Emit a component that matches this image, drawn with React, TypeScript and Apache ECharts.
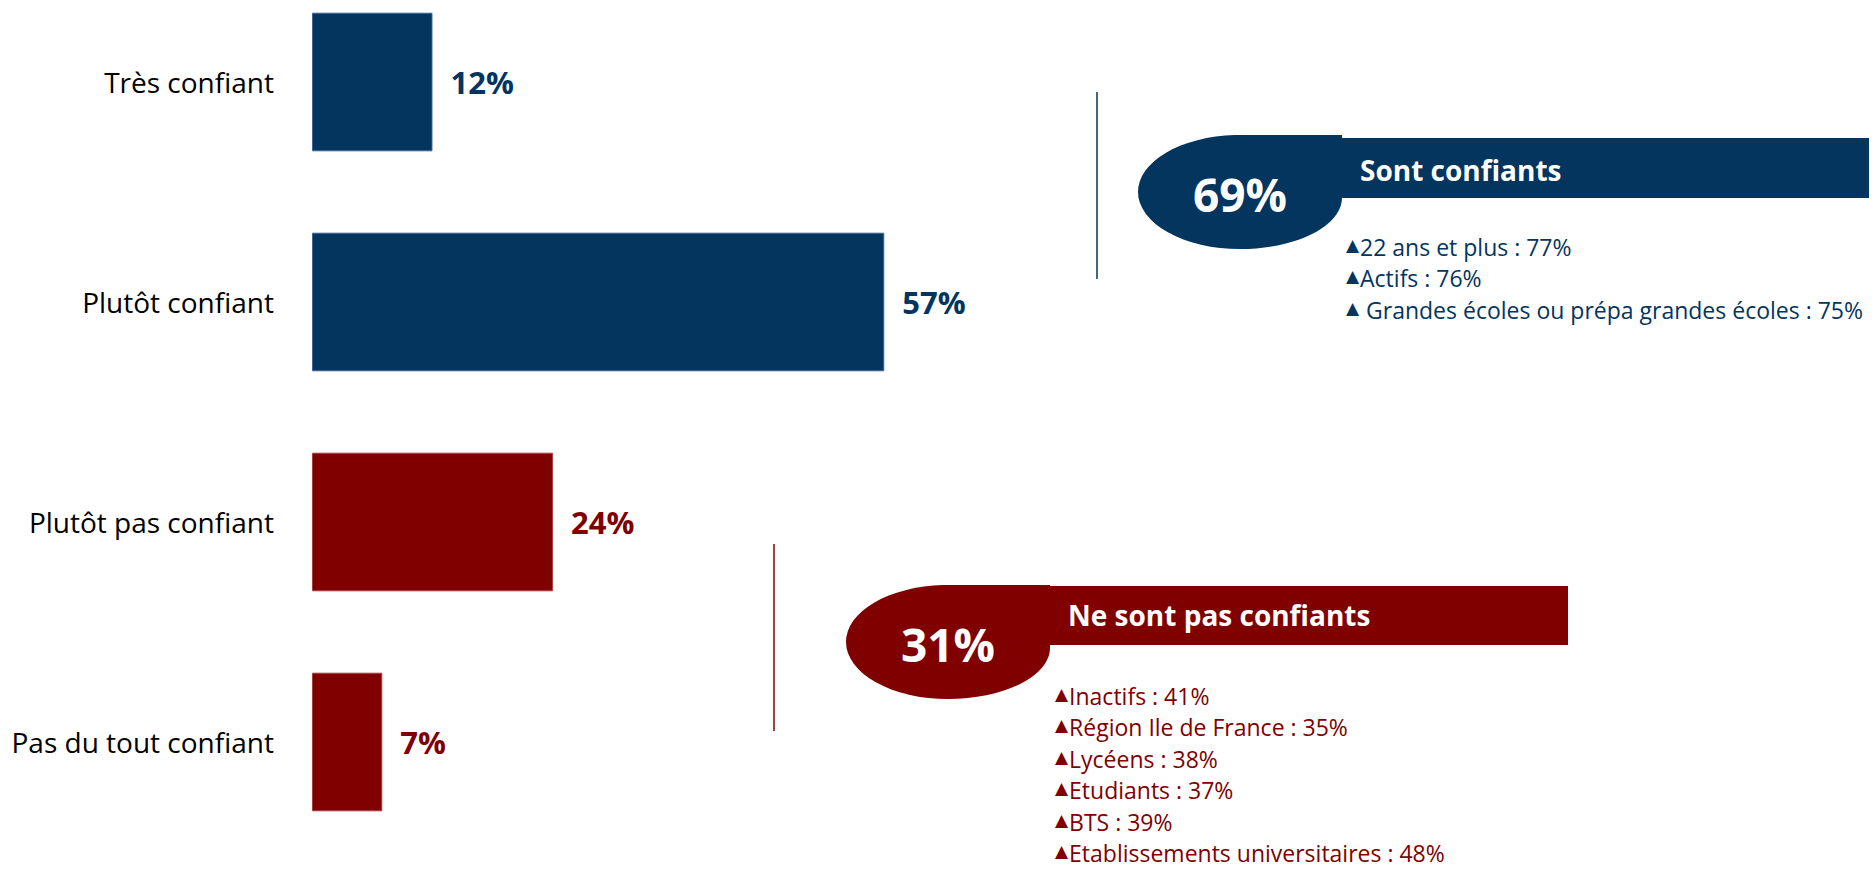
import React, { useEffect, useRef } from "react";
import * as echarts from "echarts";

const categories = ["Très confiant", "Plutôt confiant", "Plutôt pas confiant", "Pas du tout confiant"];
const values = [12, 57, 24, 7];
const valueSuffix = "%";

const confidentTotal = "69%";
const confidentTitle = "Sont confiants";
const confidentDetails = ["22 ans et plus : 77%", "Actifs : 76%", " Grandes écoles ou prépa grandes écoles : 75%"];

const notConfidentTotal = "31%";
const notConfidentTitle = "Ne sont pas confiants";
const notConfidentDetails = [
  "Inactifs : 41%",
  "Région Ile de France : 35%",
  "Lycéens : 38%",
  "Etudiants : 37%",
  "BTS : 39%",
  "Etablissements universitaires : 48%",
];

const NAVY = "#03355f";
const RED = "#800000";
const FONT = "'Open Sans', 'Noto Sans', sans-serif";

const RX = 102;
const RY = 57;
const tearD = `M${RX},${-RY} L${RX},${RY * 0.1} C${RX},${RY * 0.6} ${RX * 0.55},${RY} 0,${RY} A${RX},${RY} 0 0 1 ${-RX},0 A${RX},${RY} 0 0 1 ${-RX * 0.05},${-RY} Z`;
let registered = false;

function bulletTexts(items: string[], x: number, y0: number, step: number, color: string) {
  return items.map((t, i) => ({
    type: "text",
    x,
    y: y0 + i * step,
    z: 10,
    style: {
      text: `{t|▲}{b|${t}}`,
      align: "left",
      verticalAlign: "middle",
      textAlign: "left",
      textVerticalAlign: "middle",
      rich: {
        t: { fontSize: 17, fontFamily: "'DejaVu Sans', sans-serif", fill: color, color, verticalAlign: "middle", padding: [0, 1, 4, 0] },
        b: { fontSize: 23, fontFamily: FONT, fill: color, color, verticalAlign: "middle" },
      },
    },
  }));
}

function panel(
  lineX: number, lineY1: number, lineY2: number,
  cx: number, cy: number,
  rect: { x: number; y: number; width: number; height: number },
  total: string, title: string, titleX: number, titleY: number,
  details: string[], bx: number, by: number, bstep: number, color: string
) {
  return [
    { type: "line", shape: { x1: lineX, y1: lineY1, x2: lineX, y2: lineY2 }, style: { stroke: color, lineWidth: 1.5 } },
    { type: "rect", shape: rect, style: { fill: color }, z: 5 },
    { type: "teardrop", x: cx, y: cy, style: { fill: color }, z: 6 },
    {
      type: "text", x: cx, y: cy + 2, z: 10,
      style: { text: total, fill: "#fff", font: `bold 46px ${FONT}`, align: "center", verticalAlign: "middle", textAlign: "center", textVerticalAlign: "middle" },
    },
    {
      type: "text", x: titleX, y: titleY, z: 10,
      style: { text: title, fill: "#fff", font: `bold 28px ${FONT}`, align: "left", verticalAlign: "middle", textAlign: "left", textVerticalAlign: "middle" },
    },
    ...bulletTexts(details, bx, by, bstep, color),
  ];
}

export default function App() {
  const ref = useRef<HTMLDivElement>(null);
  useEffect(() => {
    if (!registered) {
      echarts.graphic.registerShape("teardrop", echarts.graphic.extendPath(tearD, {}) as any);
      registered = true;
    }
    const chart = echarts.init(ref.current!, null, { renderer: "svg" });
    const barColor = (i: number) => (i < 2 ? NAVY : RED);
    chart.setOption({
      animation: false,
      backgroundColor: "#fff",
      grid: { left: 312, right: 560, top: -28, bottom: 17, containLabel: false, outerBoundsMode: "none" },
      xAxis: { type: "value", min: 0, max: 100, show: false },
      yAxis: {
        type: "category",
        data: categories,
        inverse: true,
        axisLine: { show: false },
        axisTick: { show: false },
        splitLine: { show: false },
        axisLabel: { color: "#000", fontSize: 28, fontFamily: FONT, margin: 38 },
      },
      series: [
        {
          type: "bar",
          barCategoryGap: "37%",
          data: values.map((v, i) => ({
            value: v,
            itemStyle: { color: barColor(i), borderColor: i < 2 ? "#3d6590" : "#a84040", borderWidth: 1 },
            label: { color: barColor(i) },
          })),
          label: {
            show: true,
            position: "right",
            distance: 18,
            fontSize: 31,
            fontWeight: "bold",
            fontFamily: FONT,
            formatter: (p: any) => `${p.value}${valueSuffix}`,
          },
        },
      ],
      graphic: [
        ...panel(1097, 92, 279, 1240, 192, { x: 1341, y: 138, width: 528, height: 60 },
          confidentTotal, confidentTitle, 1360, 170, confidentDetails, 1346, 246.5, 31.7, NAVY),
        ...panel(774, 544, 731, 948, 642, { x: 1049, y: 586, width: 519, height: 59 },
          notConfidentTotal, notConfidentTitle, 1068, 615, notConfidentDetails, 1055, 696, 31.4, RED),
      ],
    });
    return () => chart.dispose();
  }, []);
  return <div ref={ref} style={{ position: "fixed", left: 0, top: 0, width: 1876, height: 869 }} />;
}
